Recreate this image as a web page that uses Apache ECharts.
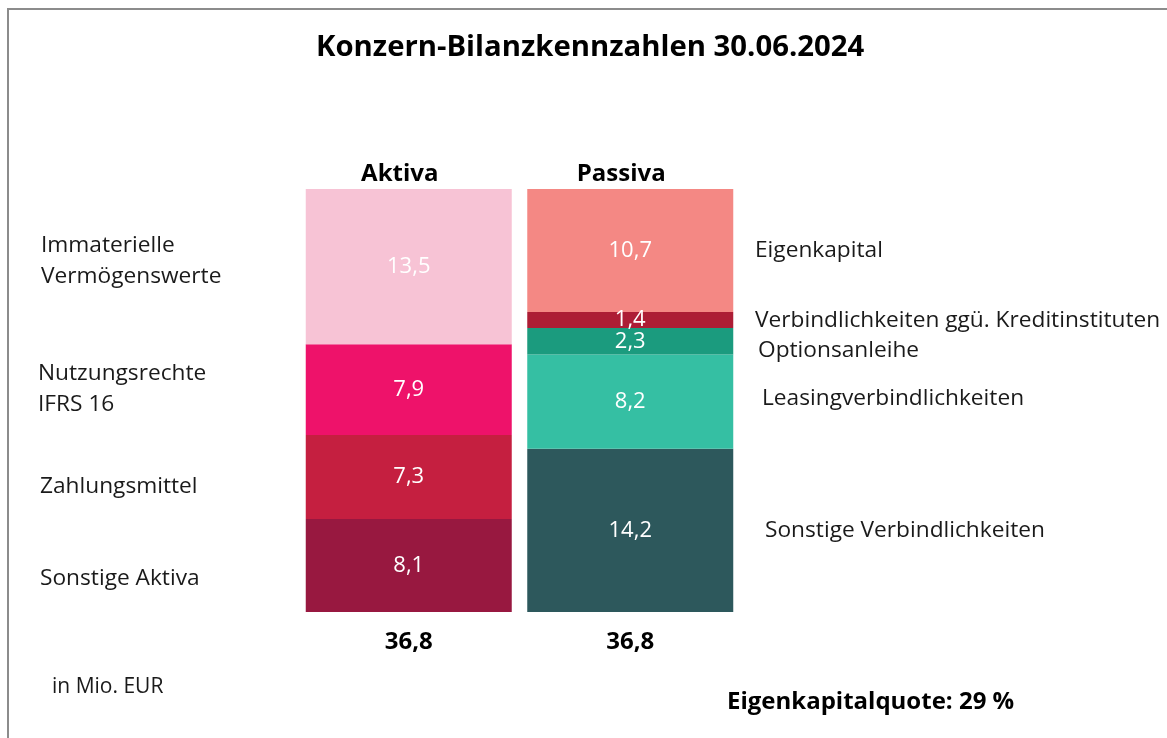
<!DOCTYPE html>
<html>
<head>
<meta charset="utf-8">
<script src="https://cdn.jsdelivr.net/npm/echarts@6/dist/echarts.min.js"></script>
<style>
  html, body { margin: 0; padding: 0; background: #fff; }
  #chart { width: 1167px; height: 738px; }
</style>
</head>
<body>
<div id="chart"></div>
<script>
// data, bottom segment first
const categories = ['Aktiva', 'Passiva'];
const aktivaNames = ['Sonstige Aktiva', 'Zahlungsmittel', 'Nutzungsrechte IFRS 16', 'Immaterielle Vermögenswerte'];
const aktivaValues = [8.1, 7.3, 7.9, 13.5];
const aktivaColors = ['#981840', '#c51f40', '#ee126a', '#f7c3d5'];
const passivaNames = ['Sonstige Verbindlichkeiten', 'Leasingverbindlichkeiten', 'Optionsanleihe', 'Verbindlichkeiten ggü. Kreditinstituten', 'Eigenkapital'];
const passivaValues = [14.2, 8.2, 2.3, 1.4, 10.7];
const passivaColors = ['#2d585c', '#35bfa3', '#1b9b7e', '#ad1d35', '#f48884'];

const fmt = v => v.toFixed(1).replace('.', ',');
const sum = arr => arr.reduce((a, b) => a + b, 0);
const totals = [sum(aktivaValues), sum(passivaValues)];
const equityRatio = Math.round(passivaValues[4] / totals[1] * 100);

const font = "'Open Sans', sans-serif";

const makeSeries = (names, values, colors, idx) =>
  names.map((name, i) => ({
    name: name,
    type: 'bar',
    stack: 'bilanz',
    barWidth: 206,
    data: categories.map((c, j) => (j === idx ? values[i] : '-')),
    itemStyle: { color: colors[i] },
    label: {
      show: true,
      position: 'inside',
      color: '#fff',
      fontFamily: font,
      fontSize: 22,
      formatter: p => fmt(p.value)
    },
    emphasis: { disabled: true }
  }));

const sideText = (text, x, y) => ({
  type: 'text',
  left: x,
  top: y,
  style: { text: text, font: "22.7px 'Open Sans', sans-serif", fill: '#1a1a1a', lineHeight: 31 }
});

const chart = echarts.init(document.getElementById('chart'));

chart.setOption({
  animation: false,
  title: {
    text: 'Konzern-Bilanzkennzahlen 30.06.2024',
    left: 316,
    top: 33,
    padding: 0,
    textStyle: { fontFamily: font, fontSize: 29.3, fontWeight: 'bold', color: '#000' }
  },
  grid: { left: 298, right: 426, top: 189, bottom: 126 },
  xAxis: [
    {
      type: 'category',
      data: categories,
      position: 'top',
      axisLine: { show: false },
      axisTick: { show: false },
      axisLabel: { margin: 3, padding: [0, 18, 0, 0], fontFamily: font, fontSize: 24, fontWeight: 'bold', color: '#000' }
    },
    {
      type: 'category',
      data: totals.map(fmt),
      position: 'bottom',
      axisLine: { show: false },
      axisTick: { show: false },
      axisLabel: { margin: 18, fontFamily: font, fontSize: 24, fontWeight: 'bold', color: '#000' }
    }
  ],
  yAxis: { type: 'value', min: 0, max: 36.8, show: false },
  series: makeSeries(aktivaNames, aktivaValues, aktivaColors, 0)
    .concat(makeSeries(passivaNames, passivaValues, passivaColors, 1)),
  graphic: [
    {
      type: 'rect',
      shape: { x: 8, y: 9, width: 1300, height: 900 },
      style: { fill: 'none', stroke: '#8c8c8c', lineWidth: 2 },
      silent: true
    },
    sideText('Immaterielle\nVermögenswerte', 41, 230),
    sideText('Nutzungsrechte\nIFRS 16', 38, 358),
    sideText('Zahlungsmittel', 40, 471),
    sideText('Sonstige Aktiva', 40, 563),
    sideText('Eigenkapital', 755, 235),
    sideText('Verbindlichkeiten ggü. Kreditinstituten', 755, 305),
    sideText('Optionsanleihe', 758, 335),
    sideText('Leasingverbindlichkeiten', 762, 383),
    sideText('Sonstige Verbindlichkeiten', 765, 515),
    {
      type: 'text', left: 52, top: 675,
      style: { text: 'in Mio. EUR', font: "21px 'Open Sans', sans-serif", fill: '#1a1a1a', lineHeight: 24 }
    },
    {
      type: 'text', left: 727, top: 688,
      style: { text: 'Eigenkapitalquote: ' + equityRatio + ' %', font: "bold 24px 'Open Sans', sans-serif", fill: '#000', lineHeight: 28 }
    }
  ]
});
</script>
</body>
</html>
